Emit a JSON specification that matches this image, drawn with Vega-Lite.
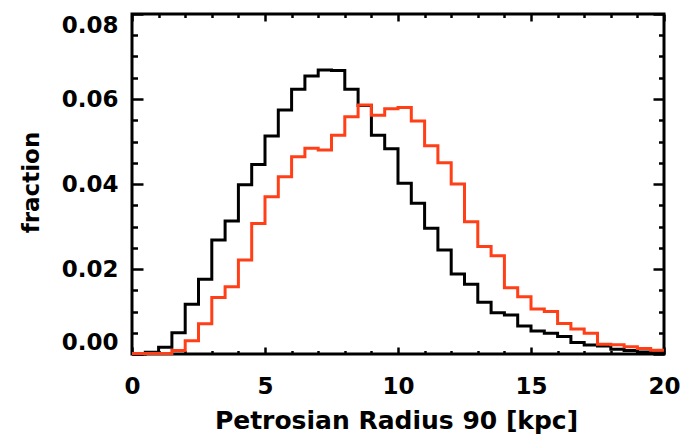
{
  "$schema": "https://vega.github.io/schema/vega-lite/v6.json",
  "width": 532,
  "height": 340,
  "autosize": {"type": "none"},
  "padding": {"left": 132, "top": 14, "right": 18, "bottom": 82},
  "background": "white",
  "config": {
    "view": {"stroke": "#000000", "strokeWidth": 3},
    "axis": {
      "labelFont": "DejaVu Sans",
      "titleFont": "DejaVu Sans",
      "labelFontWeight": "bold",
      "titleFontWeight": "bold",
      "labelColor": "#000000",
      "titleColor": "#000000",
      "tickColor": "#000000",
      "tickWidth": 2.5,
      "grid": false,
      "domain": false
    }
  },
  "datasets": {
    "black": [
      {"r": 0.0, "f": 0.0000}, {"r": 0.5, "f": 0.0004}, {"r": 1.0, "f": 0.0016}, {"r": 1.5, "f": 0.0050},
      {"r": 2.0, "f": 0.0117}, {"r": 2.5, "f": 0.0176}, {"r": 3.0, "f": 0.0268}, {"r": 3.5, "f": 0.0313},
      {"r": 4.0, "f": 0.0398}, {"r": 4.5, "f": 0.0446}, {"r": 5.0, "f": 0.0513}, {"r": 5.5, "f": 0.0574},
      {"r": 6.0, "f": 0.0623}, {"r": 6.5, "f": 0.0654}, {"r": 7.0, "f": 0.0668}, {"r": 7.5, "f": 0.0667},
      {"r": 8.0, "f": 0.0623}, {"r": 8.5, "f": 0.0585}, {"r": 9.0, "f": 0.0515}, {"r": 9.5, "f": 0.0483},
      {"r": 10.0, "f": 0.0402}, {"r": 10.5, "f": 0.0355}, {"r": 11.0, "f": 0.0296}, {"r": 11.5, "f": 0.0245},
      {"r": 12.0, "f": 0.0188}, {"r": 12.5, "f": 0.0164}, {"r": 13.0, "f": 0.0122}, {"r": 13.5, "f": 0.0097},
      {"r": 14.0, "f": 0.0092}, {"r": 14.5, "f": 0.0066}, {"r": 15.0, "f": 0.0054}, {"r": 15.5, "f": 0.0049},
      {"r": 16.0, "f": 0.0041}, {"r": 16.5, "f": 0.0027}, {"r": 17.0, "f": 0.0021}, {"r": 17.5, "f": 0.0019},
      {"r": 18.0, "f": 0.0011}, {"r": 18.5, "f": 0.0008}, {"r": 19.0, "f": 0.0005}, {"r": 19.5, "f": 0.0003},
      {"r": 20.0, "f": 0.0003}
    ],
    "red": [
      {"r": 0.0, "f": 0.0001}, {"r": 0.5, "f": 0.0001}, {"r": 1.0, "f": 0.0001}, {"r": 1.5, "f": 0.0008},
      {"r": 2.0, "f": 0.0031}, {"r": 2.5, "f": 0.0071}, {"r": 3.0, "f": 0.0133}, {"r": 3.5, "f": 0.0158},
      {"r": 4.0, "f": 0.0221}, {"r": 4.5, "f": 0.0307}, {"r": 5.0, "f": 0.0370}, {"r": 5.5, "f": 0.0417},
      {"r": 6.0, "f": 0.0464}, {"r": 6.5, "f": 0.0484}, {"r": 7.0, "f": 0.0480}, {"r": 7.5, "f": 0.0515},
      {"r": 8.0, "f": 0.0558}, {"r": 8.5, "f": 0.0586}, {"r": 9.0, "f": 0.0562}, {"r": 9.5, "f": 0.0577},
      {"r": 10.0, "f": 0.0580}, {"r": 10.5, "f": 0.0548}, {"r": 11.0, "f": 0.0490}, {"r": 11.5, "f": 0.0450},
      {"r": 12.0, "f": 0.0400}, {"r": 12.5, "f": 0.0311}, {"r": 13.0, "f": 0.0253}, {"r": 13.5, "f": 0.0231},
      {"r": 14.0, "f": 0.0156}, {"r": 14.5, "f": 0.0135}, {"r": 15.0, "f": 0.0106}, {"r": 15.5, "f": 0.0100},
      {"r": 16.0, "f": 0.0072}, {"r": 16.5, "f": 0.0059}, {"r": 17.0, "f": 0.0049}, {"r": 17.5, "f": 0.0023},
      {"r": 18.0, "f": 0.0022}, {"r": 18.5, "f": 0.0017}, {"r": 19.0, "f": 0.0013}, {"r": 19.5, "f": 0.0009},
      {"r": 20.0, "f": 0.0009}
    ]
  },
  "resolve": {"axis": {"x": "independent", "y": "independent"}},
  "layer": [
    {
      "data": {"name": "black"},
      "mark": {"type": "line", "interpolate": "step-after", "stroke": "#000000", "strokeWidth": 3},
      "encoding": {
        "x": {"field": "r", "type": "quantitative", "scale": {"domain": [0, 20], "nice": false, "zero": false},
          "axis": {"orient": "bottom", "values": [0, 5, 10, 15, 20], "ticks": false, "labelFontSize": 23,
            "labelBaseline": "alphabetic", "labelPadding": 39, "labelFlush": false,
            "title": "Petrosian Radius 90 [kpc]", "titleFontSize": 25, "titleX": 264, "titleY": 74,
            "titleBaseline": "alphabetic", "titleAlign": "center"}},
        "y": {"field": "f", "type": "quantitative", "scale": {"domain": [0, 0.08], "nice": false, "zero": true},
          "axis": {"orient": "left", "values": [0, 0.02, 0.04, 0.06, 0.08], "format": ".2f", "ticks": false,
            "labelFontSize": 23, "labelPadding": 14, "labelFlush": true,
            "title": "fraction", "titleFontSize": 23, "titleX": -94, "titleY": 168, "titleAngle": 270,
            "titleBaseline": "alphabetic", "titleAlign": "center"}}
      }
    },
    {
      "data": {"name": "red"},
      "mark": {"type": "line", "interpolate": "step-after", "stroke": "#ff3f17", "strokeWidth": 3},
      "encoding": {
        "x": {"field": "r", "type": "quantitative", "scale": {"domain": [0, 20], "nice": false, "zero": false},
          "axis": {"orient": "top", "values": [0, 5, 10, 15, 20], "labels": false, "tickSize": -7, "title": null}},
        "y": {"field": "f", "type": "quantitative", "scale": {"domain": [0, 0.08], "nice": false, "zero": true},
          "axis": {"orient": "right", "values": [0, 0.02, 0.04, 0.06, 0.08], "labels": false, "tickSize": -11, "title": null}}
      }
    },
    {
      "data": {"name": "black"},
      "mark": {"type": "line", "strokeOpacity": 0},
      "encoding": {
        "x": {"field": "r", "type": "quantitative", "scale": {"domain": [0, 20], "nice": false, "zero": false},
          "axis": {"orient": "bottom", "values": [0, 5, 10, 15, 20], "labels": false, "tickSize": -7, "title": null}},
        "y": {"field": "f", "type": "quantitative", "scale": {"domain": [0, 0.08], "nice": false, "zero": true},
          "axis": {"orient": "left", "values": [0, 0.02, 0.04, 0.06, 0.08], "labels": false, "tickSize": -11, "title": null}}
      }
    },
    {
      "data": {"name": "black"},
      "mark": {"type": "line", "strokeOpacity": 0},
      "encoding": {
        "x": {"field": "r", "type": "quantitative", "scale": {"domain": [0, 20], "nice": false, "zero": false},
          "axis": {"orient": "bottom", "values": [1, 2, 3, 4, 6, 7, 8, 9, 11, 12, 13, 14, 16, 17, 18, 19], "labels": false, "tickSize": -3.5, "title": null}},
        "y": {"field": "f", "type": "quantitative", "scale": {"domain": [0, 0.08], "nice": false, "zero": true},
          "axis": {"orient": "left", "values": [0.005, 0.01, 0.015, 0.025, 0.03, 0.035, 0.045, 0.05, 0.055, 0.065, 0.07, 0.075], "labels": false, "tickSize": -5.5, "title": null}}
      }
    },
    {
      "data": {"name": "black"},
      "mark": {"type": "line", "strokeOpacity": 0},
      "encoding": {
        "x": {"field": "r", "type": "quantitative", "scale": {"domain": [0, 20], "nice": false, "zero": false},
          "axis": {"orient": "top", "values": [1, 2, 3, 4, 6, 7, 8, 9, 11, 12, 13, 14, 16, 17, 18, 19], "labels": false, "tickSize": -3.5, "title": null}},
        "y": {"field": "f", "type": "quantitative", "scale": {"domain": [0, 0.08], "nice": false, "zero": true},
          "axis": {"orient": "right", "values": [0.005, 0.01, 0.015, 0.025, 0.03, 0.035, 0.045, 0.05, 0.055, 0.065, 0.07, 0.075], "labels": false, "tickSize": -5.5, "title": null}}
      }
    }
  ]
}
